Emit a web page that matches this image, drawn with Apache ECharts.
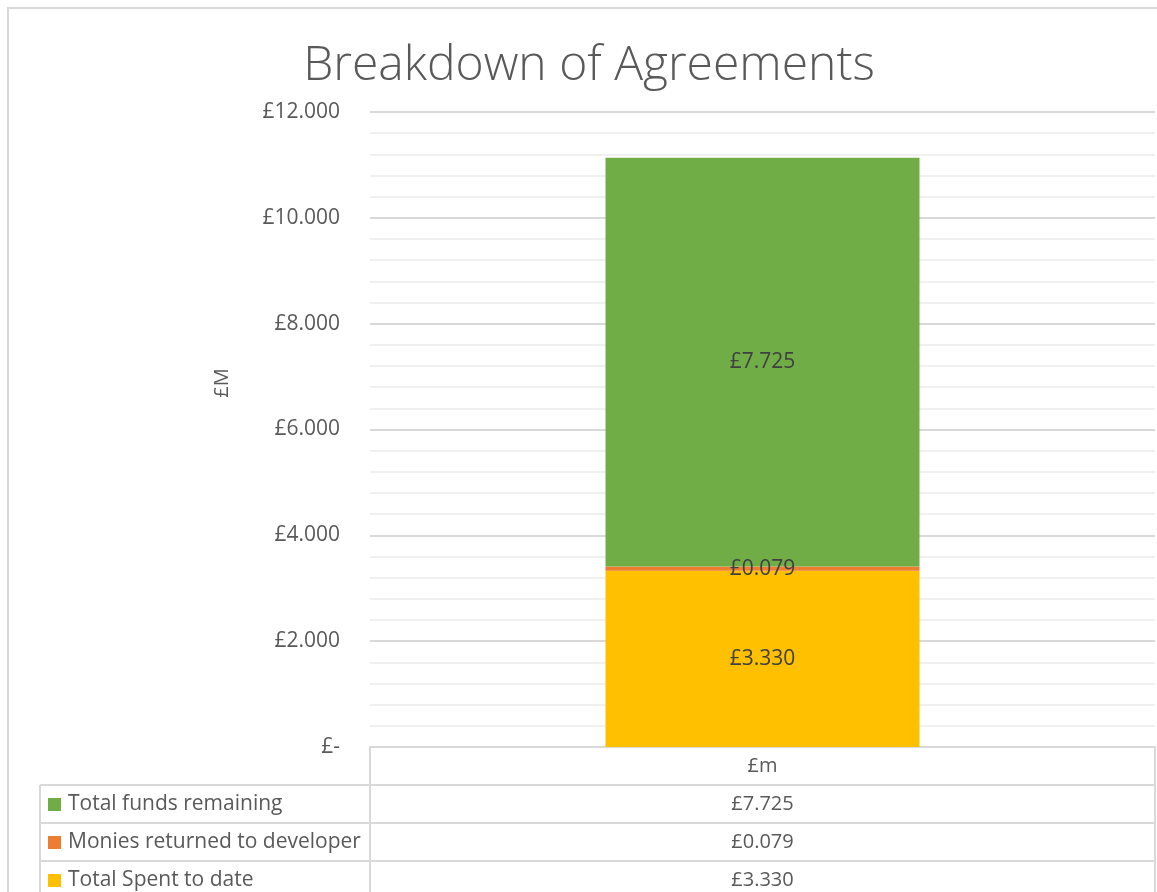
<!DOCTYPE html>
<html>
<head>
<meta charset="utf-8">
<script src="https://cdn.jsdelivr.net/npm/echarts@6/dist/echarts.min.js"></script>
<style>
  html, body { margin: 0; padding: 0; background: #fff; }
  #main { width: 1157px; height: 892px; }
</style>
</head>
<body>
<div id="main"></div>
<script>
var categories = ['£m'];
var seriesNames = ['Total Spent to date', 'Monies returned to developer', 'Total funds remaining'];
var spentToDate = [3.330];
var moniesReturned = [0.079];
var fundsRemaining = [7.725];
var seriesColors = ['#FFC000', '#ED7D31', '#70AD47'];

var FONT = 'Open Sans';
var TXT = '#595959';

function money(v) {
    return v === 0 ? '£-' : '£' + v.toFixed(3);
}

var chart = echarts.init(document.getElementById('main'));

var seriesData = [spentToDate, moniesReturned, fundsRemaining];
var series = seriesData.map(function (d, i) {
    return {
        name: seriesNames[i],
        type: 'bar',
        stack: 'total',
        barWidth: '40%',
        data: d,
        itemStyle: {color: seriesColors[i]},
        label: {
            show: true,
            position: 'inside',
            formatter: function (p) { return money(p.value); },
            color: '#404040',
            fontFamily: FONT,
            fontSize: 21
        }
    };
});

var option = {
    backgroundColor: '#fff',
    animation: false,
    title: {
        text: 'Breakdown of Agreements',
        left: 584,
        textAlign: 'center',
        top: 37,
        textStyle: {fontFamily: FONT, fontWeight: 300, fontSize: 48, color: TXT}
    },
    grid: {left: 370, right: 2, top: 112, bottom: 145},
    xAxis: {
        type: 'category',
        data: categories,
        axisLine: {show: true, lineStyle: {color: '#d9d9d9', width: 2}},
        axisTick: {show: false},
        axisLabel: {show: false}
    },
    yAxis: {
        type: 'value',
        min: 0,
        max: 12,
        interval: 2,
        axisLine: {show: false},
        axisTick: {show: false},
        axisLabel: {
            formatter: money,
            margin: 30,
            fontFamily: FONT,
            fontSize: 21,
            color: TXT
        },
        splitLine: {lineStyle: {color: '#d9d9d9', width: 2}},
        minorTick: {show: false, splitNumber: 5},
        minorSplitLine: {show: true, lineStyle: {color: '#f0f0f0', width: 2}}
    },
    series: series
};
chart.setOption(option);

// data table under the plot
var tableRows = [
    {name: seriesNames[2], values: fundsRemaining, color: seriesColors[2]},
    {name: seriesNames[1], values: moniesReturned, color: seriesColors[1]},
    {name: seriesNames[0], values: spentToDate, color: seriesColors[0]}
];
var gx0 = 370, gx1 = 1155, top0 = 747, rowH = 38, tableLeft = 40;
var lineStyle = {stroke: '#d9d9d9', lineWidth: 2};
var g = [];
// outer chart frame
g.push({type: 'rect', shape: {x: 8, y: 8, width: 1160, height: 900}, style: {fill: 'none', stroke: '#d9d9d9', lineWidth: 2}, silent: true});
// y axis title
g.push({type: 'text', x: 222, y: 383, rotation: Math.PI / 2, style: {text: '£M', align: 'center', verticalAlign: 'middle', fontFamily: FONT, fontSize: 20, fill: TXT}});
var cx = chart.convertToPixel({xAxisIndex: 0}, categories[0]);
// header row
g.push({type: 'line', shape: {x1: gx0, y1: top0, x2: gx0, y2: 900}, style: lineStyle});
g.push({type: 'line', shape: {x1: gx1, y1: top0, x2: gx1, y2: 900}, style: lineStyle});
g.push({type: 'line', shape: {x1: tableLeft, y1: top0 + rowH, x2: tableLeft, y2: 900}, style: lineStyle});
g.push({type: 'text', x: cx, y: top0 + rowH / 2, style: {text: categories[0], align: 'center', verticalAlign: 'middle', fontFamily: FONT, fontSize: 20, fill: TXT}});
tableRows.forEach(function (r, i) {
    var y = top0 + rowH * (i + 1);
    g.push({type: 'line', shape: {x1: tableLeft, y1: y, x2: gx1, y2: y}, style: lineStyle});
    g.push({type: 'rect', shape: {x: 48, y: y + rowH / 2 - 6, width: 13, height: 13}, style: {fill: r.color}});
    g.push({type: 'text', x: 68, y: y + rowH / 2, style: {text: r.name, verticalAlign: 'middle', fontFamily: FONT, fontSize: 21, fill: TXT}});
    g.push({type: 'text', x: cx, y: y + rowH / 2, style: {text: money(r.values[0]), align: 'center', verticalAlign: 'middle', fontFamily: FONT, fontSize: 20, fill: TXT}});
});
chart.setOption({graphic: g});
</script>
</body>
</html>
